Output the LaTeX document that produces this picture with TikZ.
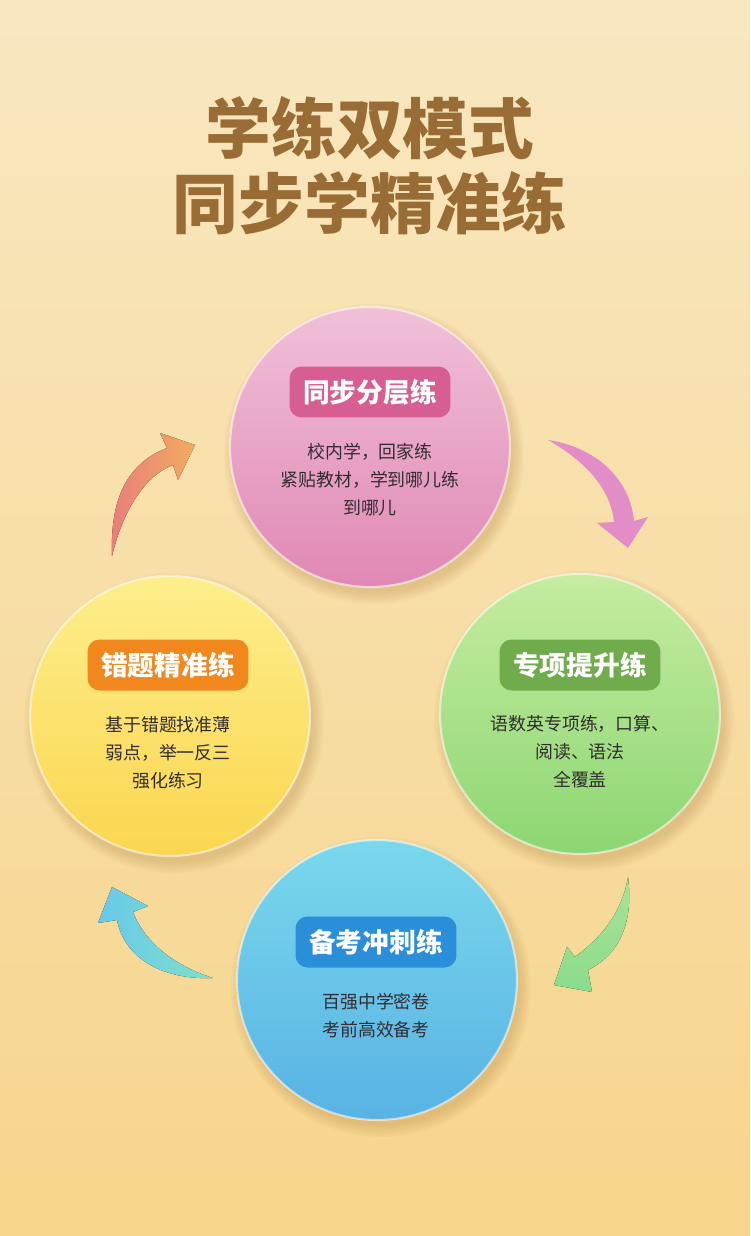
\documentclass[tikz,border=0pt]{standalone}
\usepackage{fontspec}
\setmainfont{Noto Sans CJK SC}
\usetikzlibrary{positioning}

\definecolor{bgtop}{RGB}{248,231,192}
\definecolor{bgbot}{RGB}{247,213,140}
\definecolor{titlebrown}{RGB}{152,108,52}
\definecolor{shadowbrown}{RGB}{170,125,60}
\definecolor{bodygray}{RGB}{50,45,50}
\definecolor{pinktop}{RGB}{240,192,216}
\definecolor{pinkbot}{RGB}{225,136,180}
\definecolor{pinktag}{RGB}{214,94,146}
\definecolor{yellowtop}{RGB}{253,238,140}
\definecolor{yellowbot}{RGB}{251,214,80}
\definecolor{orangetag}{RGB}{240,136,30}
\definecolor{greentop}{RGB}{198,236,160}
\definecolor{greenbot}{RGB}{140,214,115}
\definecolor{greentag}{RGB}{112,172,76}
\definecolor{bluetop}{RGB}{122,216,236}
\definecolor{bluebot}{RGB}{88,178,228}
\definecolor{bluetag}{RGB}{42,142,216}
\definecolor{arrowred}{RGB}{232,125,125}
\definecolor{arroworange}{RGB}{242,172,95}
\definecolor{arrowpink}{RGB}{226,140,200}
\definecolor{arrowlime}{RGB}{170,226,150}
\definecolor{arrowgreen}{RGB}{138,220,140}
\definecolor{arrowblue}{RGB}{105,200,236}
\definecolor{arrowteal}{RGB}{125,226,200}

\tikzset{
    disc/.style={circle, minimum size=5.6cm, inner sep=0pt,
        draw=white, draw opacity=0.55, line width=1.2pt},
    tag/.style={rounded corners=0.24cm, minimum width=3.22cm, minimum height=1.02cm,
        inner sep=0pt, text=white, font=\fontsize{15.2}{16}\selectfont\bfseries},
    body/.style={align=center, text=bodygray, inner sep=0pt,
        font=\fontsize{10.2}{15.9}\selectfont},
    headline/.style={text=titlebrown, inner sep=0pt,
        font=\fontsize{37.4}{40}\selectfont\bfseries}
}

\begin{document}
\begin{tikzpicture}[x=0.02cm, y=-0.02cm]

    % Draw the background
    \shade[top color=bgtop, bottom color=bgbot] (0,0) rectangle (750,1236);
    \useasboundingbox (0,0) rectangle (750,1236);

    % Draw the title
    \node[headline] (title1) at (370,128) {学练双模式};
    \node[headline] (title2) at (370,203) {同步学精准练};

    % Draw the soft shadows under the discs
    \foreach \cx/\cy in {370/447, 170/716, 580/714, 377/980}
        \foreach \k in {0,...,5}
            \fill[shadowbrown, opacity=0.05] (\cx+4,\cy+7) circle ({139+\k*2.2});

    % Draw the four discs
    \node[disc, top color=pinktop, bottom color=pinkbot] (tongbu) at (370,447) {};
    \node[disc, top color=yellowtop, bottom color=yellowbot] (cuoti) at (170,716) {};
    \node[disc, top color=greentop, bottom color=greenbot] (zhuanxiang) at (580,714) {};
    \node[disc, top color=bluetop, bottom color=bluebot] (beikao) at (377,980) {};

    % Draw the tags
    \node[tag, fill=pinktag] (tongbuTag) at (370,392) {同步分层练};
    \node[tag, fill=orangetag] (cuotiTag) at (168,665) {错题精准练};
    \node[tag, fill=greentag] (zhuanxiangTag) at (580,665) {专项提升练};
    \node[tag, fill=bluetag] (beikaoTag) at (376,942) {备考冲刺练};

    % Draw the texts
    \node[body] (tongbuText) at (370,480) {校内学，回家练\\紧贴教材，学到哪儿练\\到哪儿};
    \node[body] (cuotiText) at (168,753) {基于错题找准薄\\弱点，举一反三\\强化练习};
    \node[body] (zhuanxiangText) at (580,752) {语数英专项练，口算、\\阅读、语法\\全覆盖};
    \node[body] (beikaoText) at (376,1016) {百强中学密卷\\考前高效备考};

    % Draw the arrow from cuoti to tongbu
    \fill[left color=arrowred, right color=arroworange]
        (112,556) .. controls (110,500) and (126,464) .. (167,448)
        -- (160,433) -- (195,445) -- (178,480) -- (173,465)
        .. controls (148,474) and (124,506) .. (112,556) -- cycle;

    % Draw the arrow from tongbu to zhuanxiang
    \fill[arrowpink]
        (548,440) .. controls (595,447) and (630,478) .. (634,521)
        -- (648,517) -- (628,548) -- (597,523) -- (614,522)
        .. controls (611,492) and (590,464) .. (548,440) -- cycle;

    % Draw the arrow from zhuanxiang to beikao
    \fill[top color=arrowlime, bottom color=arrowgreen]
        (628,877) .. controls (634,925) and (618,955) .. (588,970)
        -- (592,992) -- (554,985) -- (567,947) -- (575,957)
        .. controls (603,936) and (622,912) .. (628,877) -- cycle;

    % Draw the arrow from beikao to cuoti
    \fill[left color=arrowblue, right color=arrowteal]
        (213,978) .. controls (165,980) and (125,960) .. (117,920)
        -- (98,923) -- (112,887) -- (148,906) -- (133,912)
        .. controls (145,943) and (175,966) .. (213,978) -- cycle;
\end{tikzpicture}
\end{document}
